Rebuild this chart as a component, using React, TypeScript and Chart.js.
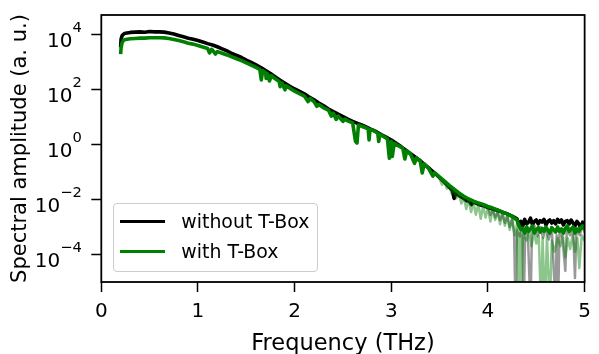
import React, { useEffect, useRef } from 'react';
import { Chart, registerables } from 'chart.js';

Chart.register(...registerables);

const FONT = "'DejaVu Sans', sans-serif";

// ---- data ----
const seriesNames = ['without T-Box', 'with T-Box'];
const seriesColors = ['#000000', '#008000'];

const blackFreq = [
  0.2, 0.205, 0.215, 0.23, 0.25, 0.3, 0.35, 0.4, 0.45, 0.5, 0.55, 0.6, 0.65, 0.7, 0.75, 0.8, 0.85, 0.9, 0.95,
  1.0, 1.05, 1.1, 1.15, 1.2, 1.25, 1.3, 1.35, 1.4, 1.45, 1.5, 1.55, 1.6, 1.65, 1.7, 1.75, 1.8, 1.85, 1.9, 1.95,
  2.0, 2.05, 2.1, 2.15, 2.2, 2.25, 2.3, 2.35, 2.4, 2.45, 2.5, 2.55, 2.6, 2.65, 2.7, 2.75, 2.8, 2.85, 2.9, 2.95,
  3.0, 3.05, 3.1, 3.15, 3.2, 3.25, 3.3, 3.35, 3.4, 3.45, 3.5, 3.55, 3.6, 3.63, 3.65, 3.67, 3.7, 3.75, 3.78, 3.8,
  3.83, 3.85, 3.9, 3.95, 4.0, 4.05, 4.1, 4.15, 4.2, 4.25, 4.3, 4.32, 4.34, 4.36, 4.38, 4.4, 4.42, 4.44, 4.46, 4.48,
  4.5, 4.52, 4.54, 4.56, 4.58, 4.6, 4.62, 4.64, 4.66, 4.68, 4.7, 4.72, 4.74, 4.76, 4.78, 4.8, 4.82, 4.84, 4.86,
  4.88, 4.9, 4.92, 4.94, 4.96, 4.98, 5.0,
];
const blackAmp = [
  3.5e3, 7.1e3, 9.3e3, 1.07e4, 1.15e4, 1.23e4, 1.26e4, 1.29e4, 1.25e4, 1.32e4, 1.29e4, 1.29e4, 1.26e4, 1.17e4, 1.07e4, 9.5e3, 8.5e3, 7.6e3, 6.9e3,
  6.2e3, 5.5e3, 4.8e3, 4.3e3, 3.7e3, 3.1e3, 2.6e3, 2.1e3, 1.8e3, 1.5e3, 1.2e3, 1.0e3, 8.1e2, 6.5e2, 5.0e2, 3.9e2, 2.95e2, 2.24e2, 1.74e2, 1.35e2,
  107, 87, 71, 55, 43, 33, 26, 20, 16, 13, 10.5, 8.5, 7.1, 6.0, 5.1, 4.3, 3.5, 2.9, 2.3, 1.86,
  1.48, 1.12, 0.85, 0.63, 0.47, 0.35, 0.26, 0.18, 0.13, 0.091, 0.063, 0.043, 0.028, 0.022, 0.011, 0.019, 0.014, 0.011, 0.0089, 0.0095,
  0.0066, 0.0083, 0.0068, 0.006, 0.0051, 0.0045, 0.004, 0.0035, 0.003, 0.0025, 0.002, 0.0012, 0.0016, 0.0011, 0.0019, 0.0013, 0.0015, 0.0021, 0.0012, 0.0016,
  0.0018, 0.0013, 0.0017, 0.0015, 0.0019, 0.0012, 0.0016, 0.0018, 0.0014, 0.0017, 0.0013, 0.0019, 0.0015, 0.0018, 0.0012, 0.0016, 0.0017, 0.0013, 0.0018,
  0.0014, 0.0011, 0.0016, 0.0013, 0.0009, 0.0015, 0.0012,
];

const greenFreq = [
  0.2, 0.205, 0.215, 0.23, 0.25, 0.3, 0.35, 0.4, 0.45, 0.5, 0.55, 0.6, 0.65, 0.7, 0.75, 0.8, 0.85, 0.9, 0.95,
  1.0, 1.05, 1.1, 1.12, 1.14, 1.15, 1.18, 1.2, 1.25, 1.3, 1.35, 1.4, 1.45, 1.5, 1.55, 1.6, 1.64, 1.655, 1.67, 1.7,
  1.705, 1.72, 1.74, 1.76, 1.8, 1.84, 1.85, 1.87, 1.9, 1.91, 1.95, 2.0, 2.05, 2.1, 2.14, 2.16, 2.2, 2.23, 2.25,
  2.3, 2.35, 2.38, 2.4, 2.43, 2.45, 2.5, 2.52, 2.55, 2.6, 2.63, 2.645, 2.66, 2.7, 2.76, 2.77, 2.78, 2.82, 2.86,
  2.87, 2.88, 2.92, 2.96, 2.98, 3.0, 3.01, 3.03, 3.08, 3.12, 3.14, 3.16, 3.2, 3.24, 3.26, 3.3, 3.32, 3.34, 3.38,
  3.43, 3.45, 3.5, 3.55, 3.6, 3.65, 3.7, 3.75, 3.8, 3.85, 3.9, 3.95, 4.0, 4.05, 4.1, 4.15, 4.2, 4.25, 4.3, 4.32,
  4.34, 4.36, 4.38, 4.4, 4.42, 4.44, 4.46, 4.48, 4.5, 4.52, 4.54, 4.56, 4.58, 4.6, 4.62, 4.64, 4.66, 4.68, 4.7,
  4.72, 4.74, 4.76, 4.78, 4.8, 4.82, 4.84, 4.86, 4.88, 4.9, 4.92, 4.94, 4.96, 4.98, 5.0,
];
const greenAmp = [
  2.0e3, 3.5e3, 5.2e3, 6.3e3, 6.8e3, 7.2e3, 7.4e3, 7.6e3, 7.6e3, 7.9e3, 7.9e3, 7.9e3, 7.8e3, 7.4e3, 6.8e3, 6.2e3, 5.6e3, 5.0e3, 4.6e3,
  4.1e3, 3.6e3, 3.2e3, 2.2e3, 2.95e3, 2.8e3, 2.0e3, 2.45e3, 2.14e3, 1.86e3, 1.58e3, 1.35e3, 1.15e3, 950, 790, 650, 550, 230, 500, 420,
  260, 380, 210, 330, 250, 200, 130, 174, 100, 140, 115, 89, 72, 59, 37, 48, 37, 25, 29,
  22, 18, 11, 14, 8.3, 11, 7.1, 8.5, 7.4, 6.2, 1.3, 1.15, 5.2, 4.6, 3.8, 1.5, 3.6, 3.2, 2.6,
  1.3, 2.4, 2.0, 1.6, 0.32, 1.32, 0.37, 1.12, 0.89, 0.72, 0.3, 0.6, 0.45, 0.21, 0.33, 0.245, 0.093, 0.2, 0.148,
  0.071, 0.095, 0.066, 0.047, 0.033, 0.024, 0.0174, 0.0132, 0.0105, 0.0087, 0.0076, 0.0066, 0.0056, 0.0049, 0.0042, 0.0035, 0.003, 0.0024, 0.0018, 0.0011,
  0.0008, 0.0009, 0.0006, 0.001, 0.0007, 0.00085, 0.0011, 0.0006, 0.0008, 0.00095, 0.00065, 0.0009, 0.0007, 0.001, 0.00075, 0.0006, 0.00095, 0.0008, 0.00065,
  0.001, 0.0007, 0.00085, 0.0006, 0.0009, 0.0011, 0.0007, 0.00085, 0.001, 0.0006, 0.00085, 0.0007, 0.00095, 0.0011, 0.0008,
];

// translucent noise traces at high frequency (deep dips fall below the axis)
const greyFreq = [
  4.0, 4.025, 4.05, 4.075, 4.1, 4.125, 4.15, 4.175, 4.2, 4.225, 4.25, 4.27, 4.285, 4.3, 4.33, 4.355, 4.37, 4.385,
  4.41, 4.44, 4.455, 4.48, 4.51, 4.54, 4.57, 4.6, 4.63, 4.66, 4.7, 4.71, 4.725, 4.74, 4.77, 4.8, 4.815, 4.85,
  4.88, 4.9, 4.915, 4.95, 4.975, 5.0,
];
const greyAmp = [
  0.005, 0.0028, 0.0042, 0.0022, 0.0035, 0.0018, 0.0032, 0.0014, 0.0026, 0.001, 0.002, 0.00063, 1e-6, 0.00079, 0.00045, 0.001, 1e-6, 0.00063,
  0.001, 1e-6, 0.00063, 0.00112, 0.00045, 0.001, 0.0004, 0.00089, 0.00035, 0.001, 1e-6, 0.0005, 1e-6, 0.00079, 0.0004, 2.5e-5, 0.00079, 0.0005,
  0.001, 1.4e-5, 0.00079, 0.0005, 0.00112, 0.00063,
];
const lightGreenFreq = [
  3.5, 3.525, 3.55, 3.575, 3.6, 3.625, 3.65, 3.675, 3.7, 3.725, 3.75, 3.775, 3.8, 3.825, 3.85, 3.875, 3.9, 3.925,
  3.95, 3.975, 4.0, 4.025, 4.05, 4.075, 4.1, 4.125, 4.15, 4.175, 4.2, 4.225, 4.25, 4.275, 4.3, 4.315, 4.33, 4.345,
  4.36, 4.4, 4.425, 4.45, 4.475, 4.5, 4.525, 4.55, 4.565, 4.59, 4.61, 4.64, 4.66, 4.69, 4.72, 4.75, 4.775, 4.8,
  4.825, 4.85, 4.875, 4.9, 4.925, 4.945, 4.97, 5.0,
];
const lightGreenAmp = [
  0.056, 0.035, 0.045, 0.025, 0.032, 0.0166, 0.022, 0.0112, 0.0158, 0.0071, 0.012, 0.0045, 0.01, 0.0035, 0.0079, 0.0028, 0.0071, 0.002,
  0.006, 0.0022, 0.005, 0.0016, 0.0045, 0.0018, 0.0038, 0.00126, 0.0032, 0.00112, 0.0026, 0.00079, 0.002, 0.0005, 0.00126, 1e-6, 0.00063, 1e-6,
  0.0005, 0.00032, 0.00079, 0.0002, 0.00063, 0.00025, 0.0005, 1e-6, 0.0004, 1e-6, 0.0005, 1e-6, 0.00032, 0.000126, 0.0004, 0.0002, 0.0005, 7.9e-5,
  0.0004, 0.000158, 0.0005, 0.000126, 0.0004, 3.2e-5, 0.0005, 0.00032,
];

const xTickValues = [0, 1, 2, 3, 4, 5];
const yTickValues = [1e-4, 1e-2, 1, 1e2, 1e4];
const yTickExponents = ['\u22124', '\u22122', '0', '2', '4'];

const toPoints = (xs: number[], ys: number[]) => xs.map((x, i) => ({ x, y: ys[i] }));

const framePlugin = {
  id: 'frame',
  afterDatasetsDraw(chart: any) {
    const { ctx, chartArea: a } = chart;
    ctx.save();
    ctx.strokeStyle = '#000';
    ctx.lineWidth = 1.8;
    ctx.strokeRect(a.left, a.top, a.right - a.left, a.bottom - a.top);
    ctx.restore();
  },
  afterDraw(chart: any) {
    const { ctx } = chart;
    const ys = chart.scales.y;
    const baseFont = `20px ${FONT}`;
    const expFont = `14.7px ${FONT}`;
    ctx.save();
    ctx.fillStyle = '#000';
    ctx.textAlign = 'left';
    ctx.textBaseline = 'alphabetic';
    yTickValues.forEach((v, i) => {
      const py = ys.getPixelForValue(v);
      const exp = yTickExponents[i];
      ctx.font = baseFont;
      const wb = ctx.measureText('10').width;
      ctx.font = expFont;
      const we = ctx.measureText(exp).width;
      const x0 = ys.right - 19.5 - wb - we;
      ctx.font = baseFont;
      ctx.fillText('10', x0, py + 12.4);
      ctx.font = expFont;
      ctx.fillText(exp, x0 + wb, py - 2.6);
    });
    ctx.restore();
  },
};

export default function App() {
  const ref = useRef<HTMLCanvasElement>(null);

  useEffect(() => {
    const canvas = ref.current;
    if (!canvas) return;
    Chart.defaults.font.family = FONT;
    const line = (data: any[], color: string, width: number, order: number) => ({
      data,
      borderColor: color,
      backgroundColor: color,
      borderWidth: width,
      pointRadius: 0,
      tension: 0,
      fill: false,
      order,
      borderJoinStyle: 'round' as const,
    });
    const chart = new Chart(canvas, {
      type: 'line',
      data: {
        datasets: [
          { label: seriesNames[1], ...line(toPoints(greenFreq, greenAmp), seriesColors[1], 3.6, 0) },
          { label: seriesNames[1] + ' (spread)', ...line(toPoints(lightGreenFreq, lightGreenAmp), 'rgba(0,128,0,0.45)', 2.5, 1) },
          { label: seriesNames[0] + ' (spread)', ...line(toPoints(greyFreq, greyAmp), 'rgba(0,0,0,0.4)', 2.5, 2) },
          { label: seriesNames[0], ...line(toPoints(blackFreq, blackAmp), seriesColors[0], 3.6, 3) },
        ],
      },
      options: {
        animation: false,
        responsive: false,
        devicePixelRatio: 1,
        events: [],
        layout: { padding: { left: 0, right: 6.3, top: 13.3, bottom: 0 } },
        plugins: { legend: { display: false }, tooltip: { enabled: false } },
        scales: {
          x: {
            type: 'linear',
            min: 0,
            max: 5,
            afterBuildTicks: (s: any) => { s.ticks = xTickValues.map((v) => ({ value: v })); },
            afterFit: (s: any) => { s.height = 72; },
            ticks: { color: '#000', font: { size: 20 }, padding: 8, autoSkip: false, maxRotation: 0 },
            grid: { drawOnChartArea: false, drawTicks: true, tickLength: 10, tickWidth: 1.5, tickColor: '#000' },
            border: { display: false },
            title: {
              display: true,
              text: 'Frequency (THz)',
              color: '#000',
              font: { size: 22.5, lineHeight: 1 },
              padding: { top: 0, bottom: -1.2 },
            },
          },
          y: {
            type: 'logarithmic',
            min: 0.993e-5,
            max: 5.3e4,
            afterBuildTicks: (s: any) => { s.ticks = yTickValues.map((v) => ({ value: v, major: true })); },
            afterFit: (s: any) => { s.width = 101.3; },
            ticks: { color: '#000', font: { size: 20 }, autoSkip: false, callback: () => '' },
            grid: { drawOnChartArea: false, drawTicks: true, tickLength: 10, tickWidth: 1.5, tickColor: '#000' },
            border: { display: false },
            title: {
              display: true,
              text: 'Spectral amplitude (a. u.)',
              color: '#000',
              font: { size: 21, lineHeight: 1 },
              padding: { top: 10.3, bottom: 0 },
            },
          },
        },
      },
      plugins: [framePlugin],
    } as any);
    return () => chart.destroy();
  }, []);

  return (
    <div style={{ position: 'absolute', left: 0, top: 0, width: 599, height: 354, background: '#fff', overflow: 'hidden' }}>
      <canvas ref={ref} width={599} height={354} style={{ width: '599px', height: '354px', display: 'block' }} />
      <div
        style={{
          position: 'absolute',
          left: 113.3,
          top: 203.3,
          width: 205,
          height: 68.4,
          boxSizing: 'border-box',
          border: '1.4px solid #cccccc',
          borderRadius: 4,
          background: 'rgba(255,255,255,0.8)',
          fontFamily: FONT,
          fontSize: 18.9,
          color: '#000',
        }}
      >
        {seriesNames.map((name, i) => (
          <React.Fragment key={name}>
            <div
              style={{
                position: 'absolute',
                left: 5.3,
                top: 17 + 30 * i - 1.75,
                width: 45,
                height: 3.5,
                background: seriesColors[i],
              }}
            />
            <div
              style={{
                position: 'absolute',
                left: 67,
                top: 17 + 30 * i - 11,
                lineHeight: '22px',
                whiteSpace: 'nowrap',
              }}
            >
              {name}
            </div>
          </React.Fragment>
        ))}
      </div>
    </div>
  );
}
